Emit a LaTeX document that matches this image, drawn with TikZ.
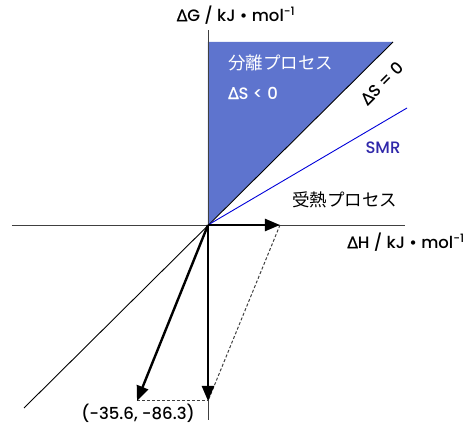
\documentclass[tikz,border=0pt]{standalone}
\usepackage{fontspec}
\setmainfont{Poppins}[UprightFont=* Medium]
\newfontfamily\jpfont{Noto Sans CJK JP}
\newfontfamily\grfont{Noto Sans}[FakeBold=1]
\usetikzlibrary{arrows.meta}
\definecolor{sepblue}{RGB}{94,116,206}
\definecolor{smrblue}{RGB}{48,40,170}
\newcommand{\dlt}{{\grfont Δ}}
\tikzset{
  axis/.style={black!75,line width=0.9pt},
  vec/.style={line width=2.4pt,-{Triangle[length=15pt,width=12pt]}},
  guide/.style={black!75,line width=1pt,dash pattern=on 3pt off 2pt},
  lbl/.style={font=\fontsize{16.5}{18}\selectfont,inner sep=1pt},
  jlbl/.style={font=\fontsize{17.5}{19}\selectfont\jpfont,inner sep=1pt}
}
\begin{document}
\begin{tikzpicture}[x=1pt,y=1pt]
\useasboundingbox (-208,-200) rectangle (256,225);
\coordinate (O) at (0,0);
\coordinate (top) at (0,183);
\coordinate (corner) at (185,183);
\coordinate (smr) at (199,117);
\coordinate (low) at (-184,-183);
\coordinate (dH) at (72,0);
\coordinate (dG) at (0,-176);
\coordinate (res) at (-71,-176);
% separation region
\fill[sepblue] (O) -- (top) -- (corner) -- cycle;
\draw[black,line width=0.9pt] (low) -- (corner);
\draw[blue!85!black,line width=0.9pt] (O) -- (smr);
% axes
\draw[axis] (-196,0) -- (197,0);
\draw[axis] (0,-195) -- (0,195);
% vectors
\draw[guide] (dH) -- (dG);
\draw[guide] (res) -- (dG);
\draw[vec] (O) -- (dH);
\draw[vec] (O) -- (dG);
\draw[vec] (O) -- (res);
% labels
\node[lbl] (gax) at (28,210) {\dlt G / kJ • mol\textsuperscript{-1}};
\node[lbl] (hax) at (198,-17) {\dlt H / kJ • mol\textsuperscript{-1}};
\node[jlbl,text=white,anchor=west] (sep) at (19,162) {分離プロセス};
\node[lbl,text=white,anchor=west] (neg) at (19,132) {\dlt S < 0};
\node[lbl,rotate=45] (zero) at (174,142) {\dlt S = 0};
\node[lbl,text=smrblue] (smrl) at (175,77) {SMR};
\node[jlbl] (endo) at (137,25) {受熱プロセス};
\node[lbl] (pt) at (-70,-188) {(-35.6, -86.3)};
\end{tikzpicture}
\end{document}
